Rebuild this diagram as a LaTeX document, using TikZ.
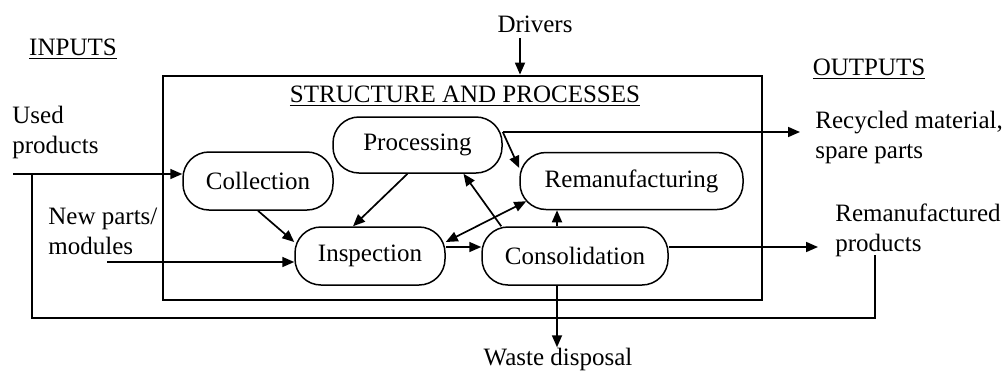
\documentclass[tikz,border=0pt]{standalone}
\usepackage{fontspec}
\setmainfont{Liberation Serif}
\usetikzlibrary{arrows.meta}

\begin{document}
\begin{tikzpicture}[x=0.5pt,y=-0.5pt,
    >={Triangle[length=6pt,width=5pt]},
    every node/.style={font=\fontsize{12.5}{15}\selectfont},
    stage/.style={draw,line width=0.75pt,rounded corners=13pt,inner sep=0pt},
    lbl/.style={inner sep=0pt,align=left},
    arr/.style={line width=0.85pt,->}]
    \useasboundingbox (0,0) rectangle (1005,370);
    % system boundary and headings
    \node [draw,line width=1.4pt,minimum width=299.5pt,minimum height=112pt,inner sep=0pt] (sys) at (462.5,188) {};
    \node [anchor=base] (title) at (465,102) {\underline{STRUCTURE AND PROCESSES}};
    \node [anchor=base] (inputs) at (73,55) {\underline{INPUTS}};
    \node [anchor=base] (outputs) at (869,75) {\underline{OUTPUTS}};
    \node [anchor=base,inner sep=0pt] (drivers) at (535,32) {Drivers};
    % stages
    \node [stage,minimum width=75pt,minimum height=29pt] (coll) at (258,181) {Collection};
    \node [stage,minimum width=84.5pt,minimum height=28pt] (proc) at (417.5,145) {Processing};
    \node [stage,minimum width=111.5pt,minimum height=28.5pt] (reman) at (631.5,181) {Remanufacturing};
    \node [stage,minimum width=75pt,minimum height=29pt] (insp) at (370,256) {Inspection};
    \node [stage,minimum width=93pt,minimum height=29pt] (consol) at (575,256) {Consolidation};
    % inputs and outputs
    \node [lbl,anchor=west] (used) at (12,132) {Used\\products};
    \node [lbl,anchor=west] (newparts) at (48,231) {New parts/\\modules};
    \node [lbl,anchor=west] (recyc) at (815,137) {Recycled material,\\spare parts};
    \node [lbl,anchor=west] (remprod) at (835,230) {Remanufactured\\products};
    \node [inner sep=0pt] (waste) at (558,359) {Waste disposal};
    \coordinate (usedin) at (13,174);
    \coordinate (split) at (32,174);
    \coordinate (newin) at (107,262);
    \coordinate (drvtop) at (520,38);
    \coordinate (fb) at (875,255);
    \coordinate (fbend) at (32,318);
    % connectors
    \draw [arr] (drvtop) -- (drvtop |- sys.north);
    \draw [arr] (usedin) -- (usedin -| coll.west);
    \draw [arr] (newin) -- (newin -| insp.west);
    \draw [line width=0.85pt] (fb) |- (fbend) -- (split);
    \draw [arr] (coll.south) -- ([yshift=7pt]insp.west);
    \draw [arr] ([xshift=-5pt]proc.south) -- ([xshift=-8.5pt]insp.north);
    \draw [arr] ([yshift=6.5pt]proc.east) -- ([yshift=6.5pt]reman.west);
    \draw [arr,shorten >=7.5pt] ([yshift=6.5pt]proc.east) -- ([yshift=6.5pt]proc.east -| recyc.west);
    \draw [arr,<->] ([yshift=7pt]insp.east) -- ([xshift=3.5pt,yshift=4.5pt]reman.south west);
    \draw [arr] ([yshift=4.5pt]insp.east) -- ([yshift=4.5pt]insp.east -| consol.west);
    \draw [arr] ([xshift=10pt]consol.north west) -- ([xshift=23pt]proc.south);
    \draw [arr] ([xshift=-9pt]consol.north) -- ([xshift=-9pt]consol.north |- reman.south);
    \draw [arr] ([xshift=-9pt]consol.south) -- ([xshift=-9pt]consol.south |- waste.north);
    \draw [arr,shorten >=8.5pt] ([yshift=4.5pt]consol.east) -- ([yshift=4.5pt]consol.east -| remprod.west);
\end{tikzpicture}
\end{document}
